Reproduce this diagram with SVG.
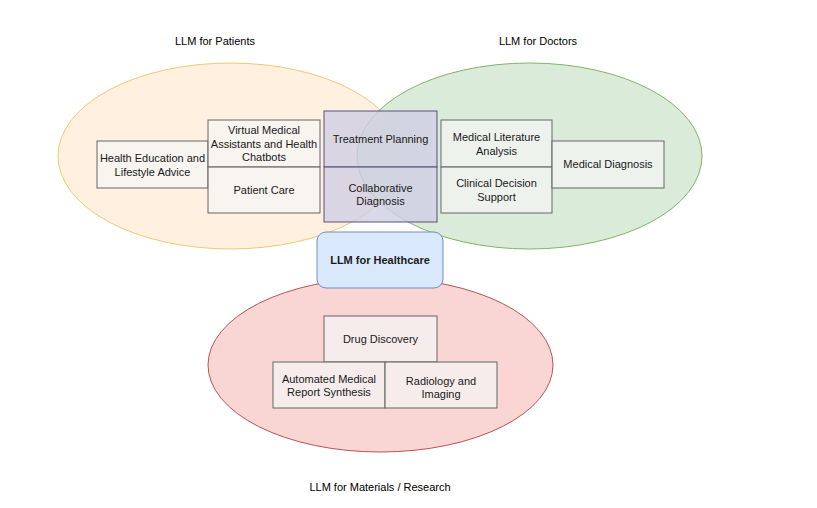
<svg xmlns="http://www.w3.org/2000/svg" width="817" height="508" viewBox="0 0 817 508">
<style>
text{font-family:"Liberation Sans",Arial,sans-serif;font-size:11px;fill:#1a1a1a;text-anchor:middle}
.box{fill:#f5f5f5;fill-opacity:0.7;stroke:#666666;stroke-width:1}
.pur{fill:#d0cee2;fill-opacity:0.8;stroke:#56517e;stroke-width:1}
.lbl{fill:#000}
</style>
<rect width="817" height="508" fill="#ffffff"/>
<g id="regions">
<ellipse id="patients-area" cx="230.5" cy="156" rx="172.5" ry="93" fill="#ffe6cc" fill-opacity="0.6" stroke="#d79b00" stroke-opacity="0.5"/>
<ellipse id="doctors-area" cx="529.5" cy="156" rx="172.5" ry="93" fill="#d5e8d4" fill-opacity="0.85" stroke="#82b366"/>
<ellipse id="research-area" cx="380.5" cy="365" rx="172.5" ry="87" fill="#f8cecc" fill-opacity="0.85" stroke="#b85450"/>
</g>
<g id="connectors"></g>
<g id="health-education"><rect class="box" x="97" y="141" width="111" height="47"/><text x="152.5" y="162">Health Education and</text><text x="152.5" y="176">Lifestyle Advice</text></g>
<g id="virtual-assistants"><rect class="box" x="208" y="120" width="112" height="47"/><text x="264" y="134">Virtual Medical</text><text x="264" y="147.5">Assistants and Health</text><text x="264" y="161">Chatbots</text></g>
<g id="patient-care"><rect class="box" x="208" y="167" width="112" height="46"/><text x="264" y="193.5">Patient Care</text></g>
<g id="treatment-planning"><rect class="pur" x="324" y="111" width="113" height="56"/><text x="380.5" y="142.5">Treatment Planning</text></g>
<g id="collaborative-diagnosis"><rect class="pur" x="324" y="167" width="113" height="55"/><text x="380.5" y="191.5">Collaborative</text><text x="380.5" y="205">Diagnosis</text></g>
<g id="literature-analysis"><rect class="box" x="441" y="120" width="111" height="47"/><text x="496.5" y="141">Medical Literature</text><text x="496.5" y="154.5">Analysis</text></g>
<g id="clinical-decision"><rect class="box" x="441" y="167" width="111" height="46"/><text x="496.5" y="187">Clinical Decision</text><text x="496.5" y="200.5">Support</text></g>
<g id="medical-diagnosis"><rect class="box" x="552" y="141" width="112" height="47"/><text x="608" y="168">Medical Diagnosis</text></g>
<g id="llm-healthcare"><rect x="317" y="232" width="126" height="56" rx="9" fill="#dae8fc" stroke="#6c8ebf"/><text x="380" y="263.5" style="font-weight:bold">LLM for Healthcare</text></g>
<g id="drug-discovery"><rect class="box" x="324" y="316" width="113" height="46"/><text x="380.5" y="343">Drug Discovery</text></g>
<g id="report-synthesis"><rect class="box" x="273" y="362" width="112" height="46"/><text x="329" y="382.5">Automated Medical</text><text x="329" y="396">Report Synthesis</text></g>
<g id="radiology"><rect class="box" x="385" y="362" width="112" height="46"/><text x="441" y="384.5">Radiology and</text><text x="441" y="398">Imaging</text></g>
<g id="titles">
<text class="lbl" x="215" y="45">LLM for Patients</text>
<text class="lbl" x="538" y="45">LLM for Doctors</text>
<text class="lbl" x="380" y="491">LLM for Materials / Research</text>
</g>
</svg>
